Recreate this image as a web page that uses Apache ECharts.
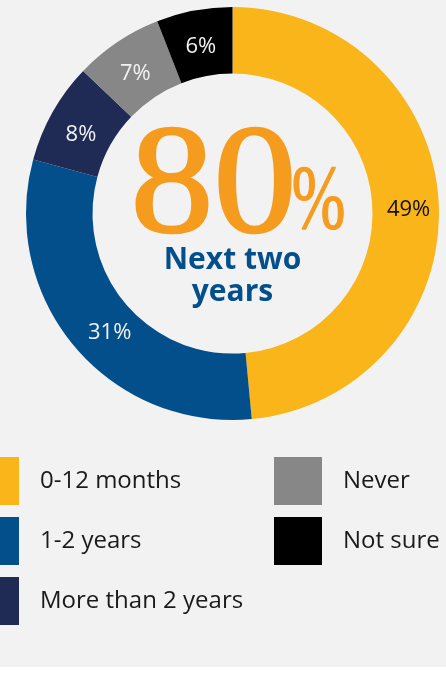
<!DOCTYPE html>
<html>
<head>
<meta charset="utf-8">
<script src="https://cdn.jsdelivr.net/npm/echarts@6/dist/echarts.min.js"></script>
<style>
html,body{margin:0;padding:0;background:#ffffff;}
#chart{width:446px;height:667px;}
</style>
</head>
<body>
<div id="chart"></div>
<script>
var categories = ['0-12 months', '1-2 years', 'More than 2 years', 'Never', 'Not sure'];
var values = [49, 31, 8, 7, 6];
var colors = ['#F9B51A', '#034F8C', '#1F2B55', '#878787', '#000000'];
var labelColors = ['#111111', '#f2f2f2', '#f2f2f2', '#f2f2f2', '#f2f2f2'];
var centerValue = '80';
var centerSub = ['Next two', 'years'];

var labelOffsets = [[0, 4], [12, 6], [2, 8], [1, 7], [1, 6]];

var data = categories.map(function (c, i) {
  return {
    name: c,
    value: values[i],
    itemStyle: { color: colors[i] },
    label: { color: labelColors[i], offset: labelOffsets[i] }
  };
});

var chart = echarts.init(document.getElementById('chart'), null, { renderer: 'canvas' });
var legendText = { fontFamily: 'Open Sans', fontSize: 24, color: '#1a1a1a', padding: [0, 0, 0, 16] };
chart.setOption({
  backgroundColor: '#f2f2f2',
  animation: false,
  legend: [
    {
      orient: 'vertical', left: -29, top: 457, padding: 0,
      itemWidth: 48, itemHeight: 48, itemGap: 12,
      icon: 'rect', textStyle: legendText,
      data: categories.slice(0, 3)
    },
    {
      orient: 'vertical', left: 274, top: 457, padding: 0,
      itemWidth: 48, itemHeight: 48, itemGap: 12,
      icon: 'rect', textStyle: legendText,
      data: categories.slice(3)
    }
  ],
  series: [{
    type: 'pie',
    center: [232.5, 213.5],
    radius: [140, 206.5],
    startAngle: 90,
    clockwise: true,
    avoidLabelOverlap: false,
    itemStyle: { borderWidth: 0 },
    label: {
      show: true, position: 'inside',
      formatter: '{c}%',
      fontFamily: 'Open Sans', fontSize: 22
    },
    labelLine: { show: false },
    emphasis: { disabled: true },
    data: data
  }],
  graphic: [
    {
      type: 'text', x: 213.5, y: 190,
      style: {
        x: 0, y: 0, text: centerValue,
        font: 'normal 155px "Liberation Serif"',
        fill: '#F59C1F', stroke: '#F59C1F', lineWidth: 2.5,
        align: 'center', verticalAlign: 'middle'
      },
      scaleX: 1.07
    },
    {
      type: 'text', x: 318.5, y: 204,
      style: {
        x: 0, y: 0, text: '%',
        font: 'normal 92px "Liberation Serif"',
        fill: '#F59C1F', stroke: '#F59C1F', lineWidth: 1.5,
        align: 'center', verticalAlign: 'middle'
      },
      scaleX: 0.7
    },
    {
      type: 'text', x: 232.5, y: 260,
      style: {
        x: 0, y: 0, text: centerSub[0],
        font: 'bold 30px "Open Sans"',
        fill: '#034F8C', align: 'center', verticalAlign: 'middle'
      }
    },
    {
      type: 'text', x: 232.5, y: 292,
      style: {
        x: 0, y: 0, text: centerSub[1],
        font: 'bold 30px "Open Sans"',
        fill: '#034F8C', align: 'center', verticalAlign: 'middle'
      }
    }
  ]
});
</script>
</body>
</html>
